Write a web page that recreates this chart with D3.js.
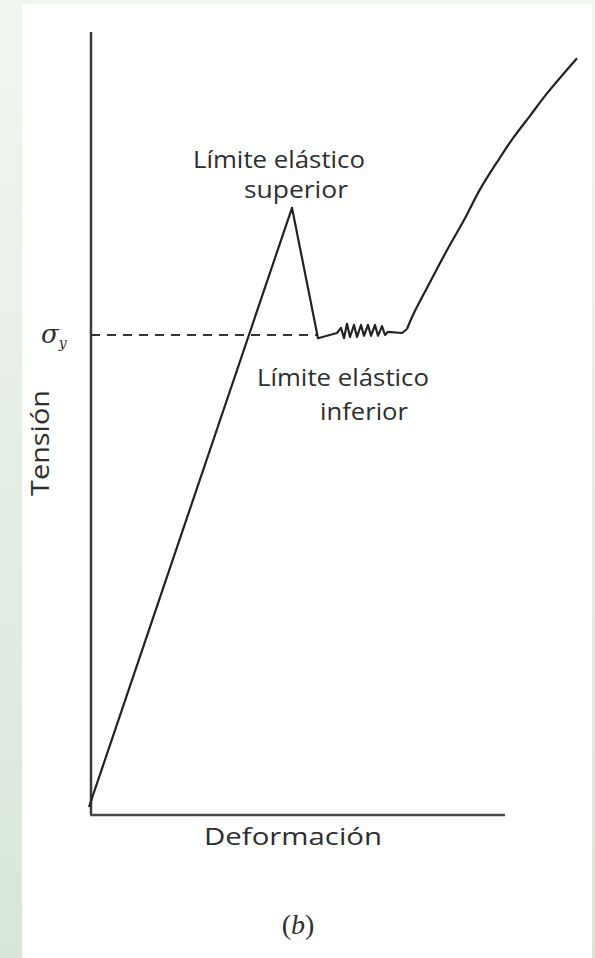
<!DOCTYPE html>
<meta charset="utf-8">
<head>
    <script type="text/javascript" src="https://cdn.jsdelivr.net/npm/d3@7/dist/d3.min.js"></script>
    <style>
        body { margin: 0; background: linear-gradient(#f0f5f0, #d8e6d9); }
        svg { display: block; }
        text { font-family: "Open Sans", sans-serif; fill: #2e2e2e; }
    </style>
</head>
<body>
<div id="chart"></div>
<script>
    // curve, arbitrary units (deformation, tension)
    // elastic part + yield drop + serrated plateau
    var deformacion = [0, 40.6, 45.8, 49.6, 50.4, 51.0, 51.6, 52.2, 53.0, 53.6, 54.4, 55.0, 55.8, 56.4,
        57.2, 57.8, 58.6, 59.2, 59.8, 62.6, 63.6];
    var tension = [0, 74.9, 58.6, 59.25, 59.9, 58.6, 60.4, 58.75, 60.25, 58.75, 60.25, 58.9, 60.25, 58.9,
        60.25, 58.9, 60.1, 59.0, 59.4, 59.25, 59.75];
    // strain hardening part (smooth)
    var defEndurecimiento = [63.6, 64.8, 68.2, 71.6, 75.2, 78.2, 81.6, 84.8, 88.2, 91.6, 97.6];
    var tenEndurecimiento = [59.75, 61.5, 65.6, 69.6, 73.6, 77.2, 80.6, 83.6, 86.4, 89.2, 93.6];
    var sigmaY = 59.0;
    var dashEnd = 45.8;

    var w = 595, h = 958;
    var svg = d3.select("#chart").append("svg").attr("width", w).attr("height", h);

    // white page
    svg.append("rect").attr("x", 22).attr("y", 4).attr("width", 570).attr("height", h - 4).attr("fill", "#fff");

    var x = d3.scaleLinear().domain([0, 100]).range([89, 589]);
    var y = d3.scaleLinear().domain([0, 100]).range([807, 7]);

    // axes
    svg.append("line").attr("x1", 91).attr("x2", 91).attr("y1", 32).attr("y2", 815)
        .attr("stroke", "#3a3a3a").attr("stroke-width", 2.5);
    svg.append("line").attr("x1", 90).attr("x2", 505).attr("y1", 815).attr("y2", 815)
        .attr("stroke", "#4a4a4a").attr("stroke-width", 2.5);

    // sigma_y dashed line
    svg.append("line").attr("x1", 91).attr("x2", x(dashEnd)).attr("y1", y(sigmaY)).attr("y2", y(sigmaY))
        .attr("stroke", "#333").attr("stroke-width", 1.8).attr("stroke-dasharray", "9,7");

    var pts = deformacion.map((d, i) => [d, tension[i]]);
    var line = d3.line().x(d => x(d[0])).y(d => y(d[1]));
    svg.append("path").datum(pts).attr("d", line)
        .attr("fill", "none").attr("stroke", "#222").attr("stroke-width", 2.2).attr("stroke-linejoin", "round");

    var pts2 = defEndurecimiento.map((d, i) => [d, tenEndurecimiento[i]]);
    var smooth = d3.line().x(d => x(d[0])).y(d => y(d[1])).curve(d3.curveCatmullRom);
    svg.append("path").datum(pts2).attr("d", smooth)
        .attr("fill", "none").attr("stroke", "#222").attr("stroke-width", 2.2);

    // labels
    function label(t, px, py, len) {
        return svg.append("text").attr("x", px).attr("y", py).attr("text-anchor", "middle")
            .style("font-size", "24px").attr("textLength", len).attr("lengthAdjust", "spacingAndGlyphs").text(t);
    }
    label("Límite elástico", 279, 168, 172);
    label("superior", 296, 198, 104);
    label("Límite elástico", 343, 386, 172);
    label("inferior", 364, 420, 88);
    label("Deformación", 293, 845, 178);

    svg.append("text").attr("transform", "translate(49,443) rotate(-90)").attr("text-anchor", "middle")
        .style("font-size", "25px").attr("textLength", 106).attr("lengthAdjust", "spacingAndGlyphs").text("Tensión");

    var sig = svg.append("text").attr("x", 41).attr("y", 343)
        .style("font-family", "'DejaVu Serif', serif").style("font-style", "italic").style("font-size", "26px");
    sig.append("tspan").text("σ");
    sig.append("tspan").attr("dy", 5).style("font-size", "14px").text("y");

    svg.append("text").attr("x", 298).attr("y", 934).attr("text-anchor", "middle")
        .style("font-family", "'Liberation Serif', serif").style("font-size", "28px")
        .html("(<tspan font-style='italic'>b</tspan>)");
</script>
</body>
</html>
